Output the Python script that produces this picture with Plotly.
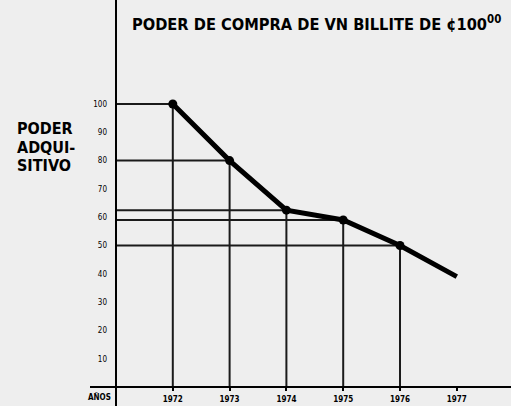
import plotly.graph_objects as go

years = [1972, 1973, 1974, 1975, 1976, 1977]
year_labels = ["1972", "1973", "1974", "1975", "1976", "1977"]
poder = [100, 80, 62.5, 59, 50, 39]
marked = [True, True, True, True, True, False]
y_ticks = [10, 20, 30, 40, 50, 60, 70, 80, 90, 100]

title_text = "PODER DE COMPRA DE VN BILLITE DE ¢100<sup>00</sup>"
ylabel_lines = ["PODER", "ADQUI-", "SITIVO"]
xlabel_text = "AÑOS"

x0 = 1971
fig = go.Figure()

# guide lines
vx, vy, hx, hy = [], [], [], []
for yr, v, m in zip(years, poder, marked):
    if m:
        vx += [yr, yr, None]
        vy += [0, v, None]
        hx += [x0, yr, None]
        hy += [v, v, None]
fig.add_trace(go.Scatter(x=vx, y=vy, mode="lines", line=dict(color="#1a1a1a", width=2),
                         hoverinfo="skip", showlegend=False))
fig.add_trace(go.Scatter(x=hx, y=hy, mode="lines", line=dict(color="#1a1a1a", width=2),
                         hoverinfo="skip", showlegend=False))

# main line
fig.add_trace(go.Scatter(x=years, y=poder, mode="lines", line=dict(color="black", width=5),
                         showlegend=False))
fig.add_trace(go.Scatter(x=[x for x, m in zip(years, marked) if m],
                         y=[v for v, m in zip(poder, marked) if m],
                         mode="markers", marker=dict(color="black", size=9),
                         showlegend=False))

hand = "DejaVu Sans Condensed, DejaVu Sans, sans-serif"

fig.update_layout(
    width=511, height=406, autosize=False,
    margin=dict(l=116, r=0, t=0, b=19),
    paper_bgcolor="#eeeeee", plot_bgcolor="#eeeeee",
    xaxis=dict(range=[x0, x0 + 395 / 56.8], showgrid=False, zeroline=False, showline=False,
               tickvals=years, ticktext=year_labels, ticks="outside", ticklen=3,
               tickcolor="black", tickwidth=2,
               tickfont=dict(family=hand, size=8, color="black", weight="bold"),
               ticklabelstandoff=1, fixedrange=True),
    yaxis=dict(range=[0, 387 / 2.83], showgrid=False, zeroline=False, showline=False,
               tickvals=y_ticks, ticks="",
               tickfont=dict(family=hand, size=8, color="black"),
               ticklabelstandoff=8, fixedrange=True),
    shapes=[
        dict(type="line", xref="paper", yref="paper", x0=0, x1=0, y0=-19 / 387, y1=1,
             line=dict(color="black", width=2)),
        dict(type="line", xref="paper", yref="paper", x0=-26 / 395, x1=1, y0=0, y1=0,
             line=dict(color="black", width=2)),
    ],
)

fig.add_annotation(text="<b>" + title_text + "</b>", xref="paper", yref="paper",
                   x=14 / 395, y=1 - 23 / 387, xanchor="left", yanchor="middle",
                   showarrow=False, font=dict(family=hand, size=16.3, color="black"))
for i, line in enumerate(ylabel_lines):
    fig.add_annotation(text="<b>" + line + "</b>", xref="paper", yref="paper",
                       x=-101 / 395, y=1 - (129 + 18 * i) / 387, xanchor="left", yanchor="middle",
                       showarrow=False, font=dict(family=hand, size=16, color="black"))
fig.add_annotation(text="<b>" + xlabel_text + "</b>", xref="paper", yref="paper",
                   x=-3 / 395, y=-10 / 387, xanchor="right", yanchor="middle",
                   showarrow=False, font=dict(family=hand, size=8, color="black"))

fig.write_html("out.html", config={"displayModeBar": False},
               post_script="document.body.style.margin='0';document.body.style.overflow='hidden';")
